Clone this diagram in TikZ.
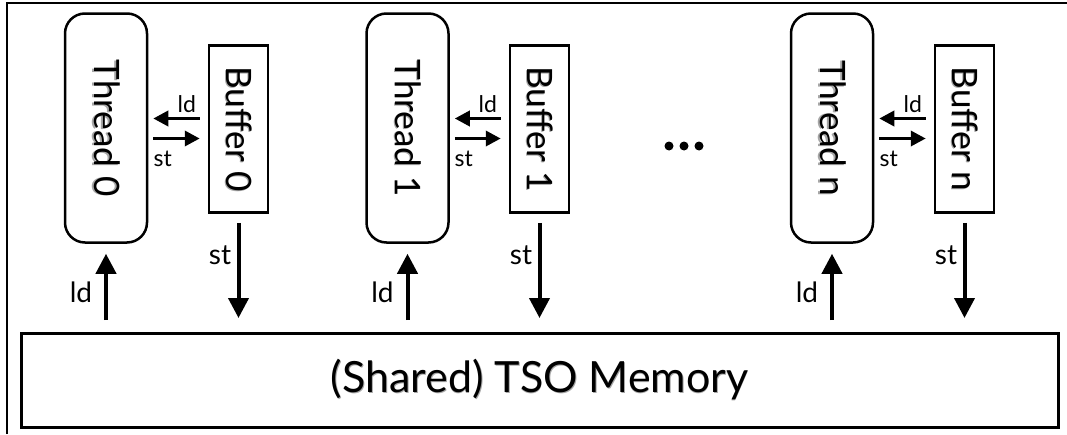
\documentclass[tikz,border=0pt]{standalone}
\usepackage{fontspec}
\setmainfont{Lato}
\usetikzlibrary{arrows.meta,calc}
\newcommand\shtxt[1]{\leavevmode\rlap{\kern0.8pt\raisebox{-1.5pt}{\textcolor{black!35}{#1}}}#1}
\begin{document}
\begin{tikzpicture}[x=1pt,y=-1pt,
  frame/.style={line width=1.5pt},
  threadbox/.style={draw,line width=2.5pt,rounded corners=20pt,minimum width=82pt,minimum height=229pt,inner sep=0pt,font=\fontsize{35}{35}\selectfont},
  bufbox/.style={draw,line width=2.5pt,minimum width=59pt,minimum height=167pt,inner sep=0pt,font=\fontsize{35}{35}\selectfont},
  membox/.style={draw,line width=3pt,minimum width=1037pt,minimum height=94pt,inner sep=0pt,font=\fontsize{43}{43}\selectfont},
  bigarr/.style={line width=4pt,-{Triangle[length=20pt,width=20pt]}},
  smallarr/.style={line width=3.5pt,-{Triangle[length=15pt,width=15pt]}},
  small/.style={font=\fontsize{23}{23}\selectfont,inner sep=0pt},
  big/.style={font=\fontsize{28}{28}\selectfont,inner sep=0pt},
]
\useasboundingbox (0,0) rectangle (1067,434);
\draw[frame] (7,434) -- (7,3) -- (1067,3);

\node[membox] (mem) at (539.5,380) {\shtxt{(Shared) TSO Memory}};

\foreach \i/\tx/\bx/\lab in {0/106/238.5/0, 1/407.5/539.5/1, n/832/964.5/n}{
  \node[threadbox] (t\i) at (\tx,128) {\rotatebox{-90}{\shtxt{Thread \lab}}};
  \node[bufbox] (b\i) at (\bx,129) {\rotatebox{-90}{\shtxt{Buffer \lab}}};
  \coordinate (lda\i) at ([yshift=10.5pt]b\i.west);
  \coordinate (sta\i) at ([yshift=-9.5pt]t\i.east |- b\i.west);
  \draw[smallarr,shorten <=8pt,shorten >=5pt] (lda\i) -- (lda\i -| t\i.east);
  \draw[smallarr,shorten <=5pt,shorten >=8pt] (sta\i) -- (sta\i -| b\i.west);
  \node[small] (ldl\i) at ($(b\i.west)+(-21,-25)$) {ld};
  \node[small] (stl\i) at ($(b\i.west)+(-45,30)$) {st};
  \draw[bigarr,shorten <=11.5pt,shorten >=10pt] (mem.north -| t\i.south) -- (t\i.south);
  \draw[bigarr,shorten <=9pt,shorten >=13.5pt] (b\i.south) -- (mem.north -| b\i.south);
  \node[big] (ldv\i) at ($(t\i.south)+(-25,49)$) {ld};
  \node[big] (stv\i) at ($(b\i.south)+(-18.5,41.5)$) {st};
}
\foreach \x in {669,684,699}{\fill (\x,146) circle (4.5);}
\end{tikzpicture}
\end{document}
